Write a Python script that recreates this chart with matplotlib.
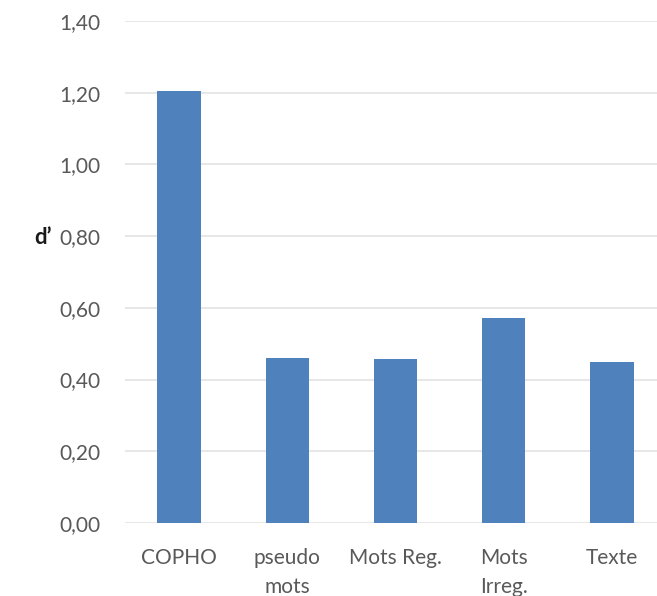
import matplotlib
matplotlib.use("Agg")
import matplotlib.pyplot as plt
import numpy as np

categories = ["COPHO", "pseudo\nmots", "Mots Reg.", "Mots\nIrreg.", "Texte"]
values = [1.205, 0.459, 0.456, 0.571, 0.450]
yticks = [0.0, 0.2, 0.4, 0.6, 0.8, 1.0, 1.2, 1.4]
ytick_labels = ["0,00", "0,20", "0,40", "0,60", "0,80", "1,00", "1,20", "1,40"]

W, H = 657, 596
fig = plt.figure(figsize=(W / 100, H / 100), dpi=100)
ax = fig.add_axes([125 / W, 73 / H, 541 / W, 502 / H])

x = np.arange(len(categories))
ax.bar(x, values, width=0.4, color="#4f81bd", zorder=3)
ax.set_xlim(-0.5, len(categories) - 0.5)
ax.set_ylim(0, 1.4)
ax.set_yticks(yticks)
ax.set_yticklabels(ytick_labels)
ax.set_xticks(x)
ax.set_xticklabels(categories, linespacing=1.55)
ax.grid(axis="y", color="#e3e3e3", linewidth=1.2, zorder=0)
for s in ax.spines.values():
    s.set_visible(False)
ax.tick_params(axis="both", length=0, labelsize=15, labelcolor="#595959")
ax.tick_params(axis="y", pad=18)
ax.tick_params(axis="x", pad=18)
for lab in ax.get_xticklabels() + ax.get_yticklabels():
    lab.set_fontfamily("Lato")

fig.text(43 / W, 1 - 238 / H, "d\u2019", fontsize=16, fontweight="bold",
         family="Lato", ha="center", va="center", color="#1a1a1a")

fig.savefig("out.png", dpi=100)
